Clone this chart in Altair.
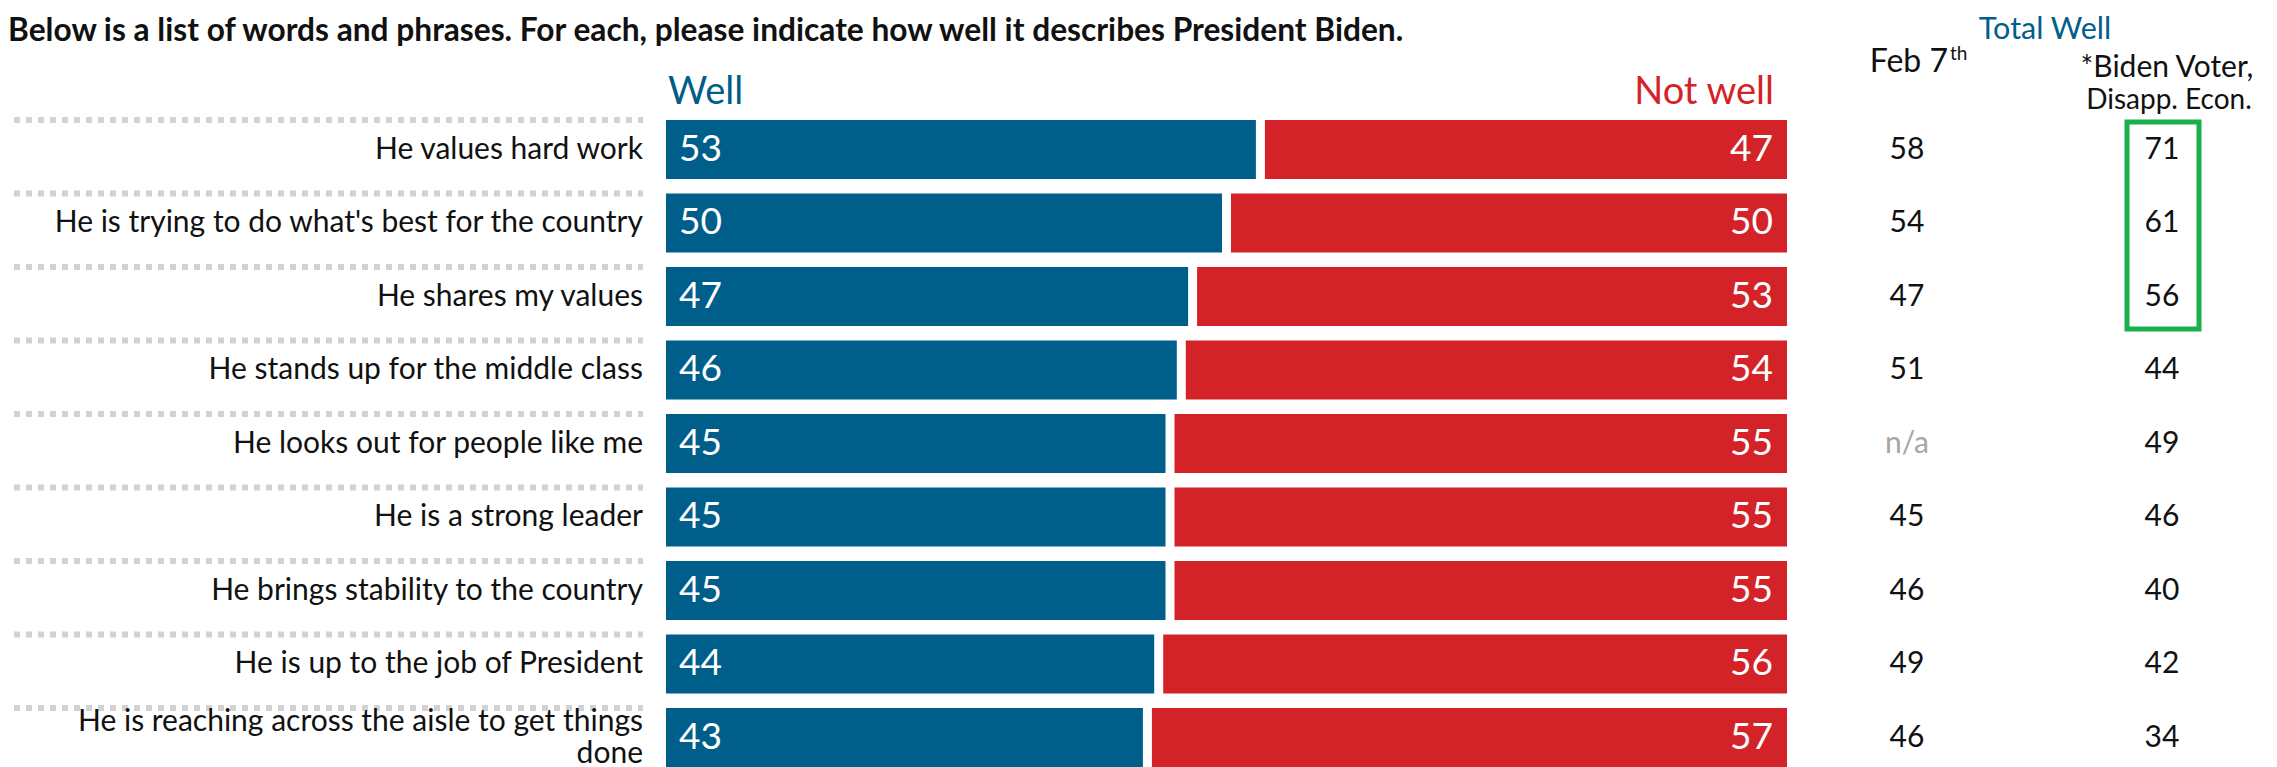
import altair as alt
import pandas as pd

# ---------------- data ----------------
labels = [
    "He values hard work",
    "He is trying to do what's best for the country",
    "He shares my values",
    "He stands up for the middle class",
    "He looks out for people like me",
    "He is a strong leader",
    "He brings stability to the country",
    "He is up to the job of President",
    "He is reaching across the aisle to get things\ndone",
]
well = [53, 50, 47, 46, 45, 45, 45, 44, 43]
not_well = [47, 50, 53, 54, 55, 55, 55, 56, 57]
feb7 = ["58", "54", "47", "51", "n/a", "45", "46", "49", "46"]
biden_voter = ["71", "61", "56", "44", "49", "46", "40", "42", "34"]

title_text = "Below is a list of words and phrases. For each, please indicate how well it describes President Biden."

BLUE = "#005E8A"
RED = "#D42229"
GREEN = "#1AB04C"
GREY_DOT = "#D2D2D2"
NA_GREY = "#A6A6A6"
TXT = "#111111"
FONT = "Lato"

W, H = 2261, 759


def px(v):
    # reference-image pixel -> plot coordinate (page margin 8px)
    return v - 8


df = pd.DataFrame({
    "row": labels,
    "well": well,
    "not_well": not_well,
    "feb": feb7,
    "biden": biden_voter,
})
df["total"] = df["well"] + df["not_well"]
df["lines"] = df["row"].str.count("\n") + 1

step = 73.5
inner = 14.5 / step
y0 = px(120) - step * inner / 2
yscale = alt.Scale(domain=labels, range=[y0, y0 + 9 * step],
                   paddingInner=inner, paddingOuter=inner / 2)
xscale = alt.Scale(domain=[0, 100], range=[px(661.5), px(1791.5)])

Y = alt.Y("row:N", scale=yscale, axis=None, sort=labels)
base = alt.Chart(df)

separators = base.mark_rule(strokeDash=[6, 6], strokeWidth=6, color=GREY_DOT).encode(
    y=alt.Y("row:N", scale=yscale, axis=None, sort=labels, bandPosition=0),
    x=alt.value(px(14)), x2=alt.value(px(643)),
)

blue_bars = base.transform_calculate(zero="0").mark_bar(
    color=BLUE, xOffset=4.5, x2Offset=-4.5
).encode(
    x=alt.X("zero:Q", scale=xscale, axis=None), x2="well:Q", y=Y,
)
red_bars = base.mark_bar(color=RED, xOffset=4.5, x2Offset=-4.5).encode(
    x=alt.X("well:Q", scale=xscale, axis=None), x2="total:Q", y=Y,
)

blue_nums = base.mark_text(align="left", baseline="middle", color="white",
                           fontSize=37, font=FONT).encode(
    x=alt.value(px(679)), y=Y, text="well:Q")
red_nums = base.mark_text(align="right", baseline="middle", color="white",
                          fontSize=37, font=FONT).encode(
    x=alt.value(px(1773)), y=Y, text="not_well:Q")

row_labels_1 = base.transform_filter(alt.datum.lines == 1).mark_text(
    align="right", baseline="middle", color=TXT, fontSize=30, font=FONT
).encode(x=alt.value(px(643)), y=Y, text="row:N")
row_labels_2 = base.transform_filter(alt.datum.lines == 2).mark_text(
    align="right", baseline="middle", color=TXT, fontSize=30, font=FONT,
    lineBreak="\n", lineHeight=32, dy=-16
).encode(x=alt.value(px(643)), y=Y, text="row:N")

feb_vals = base.mark_text(align="center", baseline="middle", fontSize=30,
                          font=FONT).encode(
    x=alt.value(px(1907)), y=Y, text="feb:N",
    color=alt.condition(alt.datum.feb == "n/a", alt.value(NA_GREY), alt.value(TXT)),
)
biden_vals = base.mark_text(align="center", baseline="middle", fontSize=30,
                            font=FONT, color=TXT).encode(
    x=alt.value(px(2162)), y=Y, text="biden:N")

one = alt.Chart(pd.DataFrame({"k": [0]}))

green_box = one.mark_rect(fill="white", fillOpacity=0, stroke=GREEN,
                          strokeWidth=5).encode(
    x=alt.value(px(2127)), x2=alt.value(px(2199)),
    y=alt.value(px(122)), y2=alt.value(px(329)))


def label(text, x, y, size, color=TXT, align="left", weight="normal"):
    return one.mark_text(align=align, baseline="alphabetic", fontSize=size,
                         font=FONT, color=color, fontWeight=weight).encode(
        x=alt.value(px(x)), y=alt.value(px(y)), text=alt.value(text))


headers = [
    label(title_text, 8, 41, 31.7, weight="bold"),
    label("Well", 668, 104, 38, color=BLUE),
    label("Not well", 1774, 104, 38, color=RED, align="right"),
    label("Total Well", 2045, 39, 30.5, color=BLUE, align="center"),
    label("Feb 7", 1948, 72, 32, align="right"),
    label("th", 1950, 60, 19),
    label("*Biden Voter,", 2167, 77, 30, align="center"),
    label("Disapp. Econ.", 2169, 109, 28, align="center"),
]

chart = alt.layer(
    separators, blue_bars, red_bars, blue_nums, red_nums, row_labels_1,
    row_labels_2, feb_vals, biden_vals, green_box, *headers
).properties(
    width=W, height=H,
    padding={"left": 0, "top": 0, "right": 0, "bottom": 0},
    autosize=alt.AutoSizeParams(type="none"),
    background="white",
).configure_view(stroke=None)

chart.save("out.html", embed_options={"renderer": "svg", "actions": False})
